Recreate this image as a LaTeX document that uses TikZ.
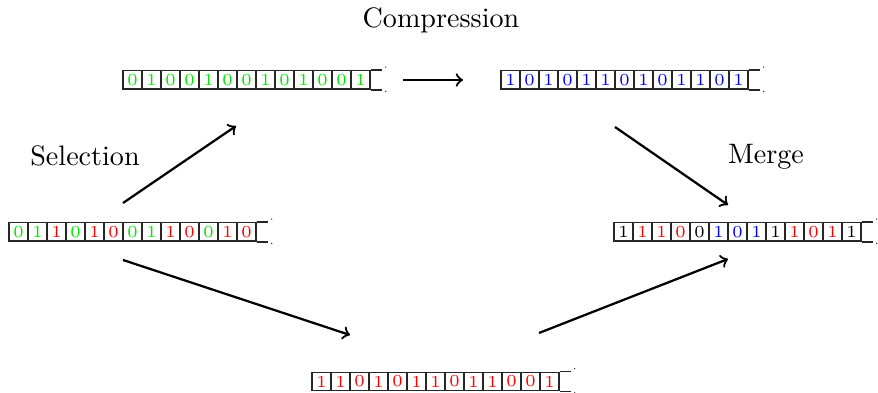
\documentclass[tikz,border=0pt]{standalone}
\usetikzlibrary{calc}
\definecolor{bitgreen}{RGB}{0,230,0}
\definecolor{bitred}{RGB}{255,0,0}
\definecolor{bitblue}{RGB}{0,0,255}
\colorlet{bitk}{black}
\colorlet{bitg}{bitgreen}
\colorlet{bitr}{bitred}
\colorlet{bitb}{bitblue}
\tikzset{
  cell/.style={draw=black!85, line width=0.5pt, inner sep=0pt,
    minimum width=0.2375cm, minimum height=0.23cm,
    font=\fontsize{6}{7}\selectfont},
  label/.style={font=\normalsize},
  flow/.style={->, thick},
}
% #1 name, #2 left x, #3 centre y, #4 list of digit/colour pairs
\newcommand\bitrow[4]{%
  \foreach \d/\c [count=\i] in {#4}{
    \node[cell, text=bit\c] (#1-\i) at ({#2+(\i-0.5)*19},#3) {\d};
  }
  \draw[black!85, line width=0.5pt] (#1-13.north east) -- ++(11,0)
        (#1-13.south east) -- ++(11,0);
  \fill[black!85] ($(#1-13.north east)+(15,-3)$) circle (0.25pt)
        ($(#1-13.south east)+(15,1.5)$) circle (0.25pt);
}
\begin{document}
\begin{tikzpicture}[x=0.0125cm, y=-0.0125cm]
\useasboundingbox (0,0) rectangle (878,393);

% bit arrays
\bitrow{sel}{9}{232}{0/g,1/g,1/r,0/g,1/r,0/r,0/g,1/g,1/r,0/r,0/g,1/r,0/r}
\bitrow{grn}{123}{80}{0/g,1/g,0/g,0/g,1/g,0/g,0/g,1/g,0/g,1/g,0/g,0/g,1/g}
\bitrow{blu}{501}{80}{1/b,0/b,1/b,0/b,1/b,1/b,0/b,1/b,0/b,1/b,1/b,0/b,1/b}
\bitrow{red}{312}{381.5}{1/r,1/r,0/r,1/r,0/r,1/r,1/r,0/r,1/r,1/r,0/r,0/r,1/r}
\bitrow{mrg}{614}{232}{1/k,1/r,1/r,0/r,0/k,1/b,0/b,1/b,1/k,1/r,0/r,1/r,1/k}

% labels
\node[label] (tcomp) at (441,20) {Compression};
\node[label] (tsel) at (85,156) {Selection};
\node[label] (tmrg) at (766,157) {Merge};

% arrow end points
\coordinate (s1) at (123,203);
\coordinate (e1) at (236,126);
\coordinate (s2) at (123,260);
\coordinate (e2) at (350,335);
\coordinate (s3) at (403,80);
\coordinate (e3) at (463,80);
\coordinate (s4) at (615,127);
\coordinate (e4) at (728,205);
\coordinate (s5) at (539,333);
\coordinate (e5) at (728,259);

\draw[flow] (s1) -- (e1);
\draw[flow] (s2) -- (e2);
\draw[flow] (s3) -- (e3);
\draw[flow] (s4) -- (e4);
\draw[flow] (s5) -- (e5);
\end{tikzpicture}
\end{document}
